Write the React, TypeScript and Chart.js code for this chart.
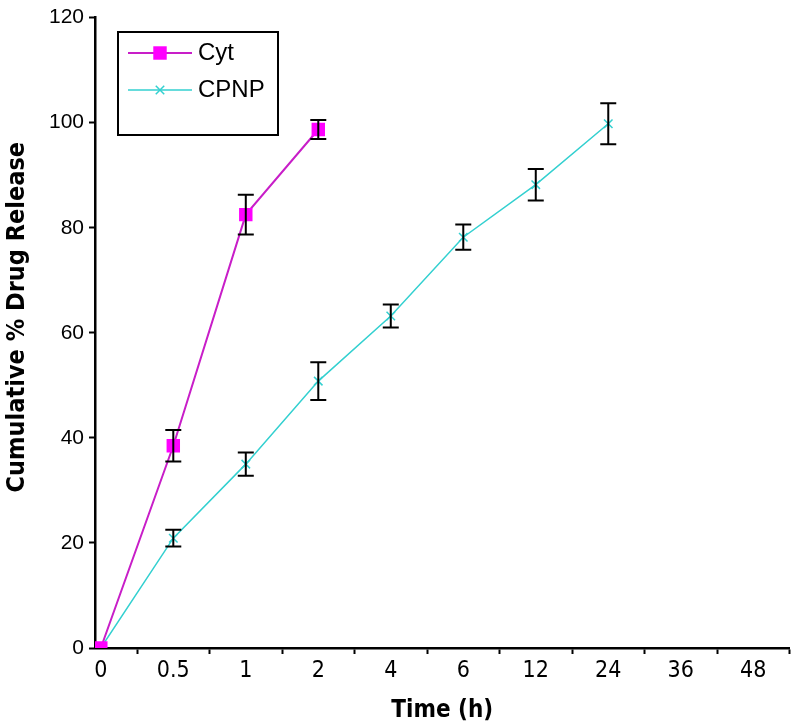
import React, { useEffect, useRef } from "react";
import { Chart, registerables } from "chart.js";

Chart.register(...registerables);

const categories = ["0", "0.5", "1", "2", "4", "6", "12", "24", "36", "48"];
const cytValues = [0, 38.5, 82.5, 98.7];
const cytErrors = [0, 3.0, 3.8, 1.8];
const cpnpValues = [0, 20.9, 35.0, 50.8, 63.2, 78.2, 88.2, 99.8];
const cpnpErrors = [0, 1.6, 2.2, 3.6, 2.2, 2.4, 3.0, 3.9];
const yTicks = [0, 20, 40, 60, 80, 100, 120];

const NARROW = "'Liberation Sans Narrow', 'DejaVu Sans Condensed', 'Liberation Sans', Arial, sans-serif";
const SANS = "'Liberation Sans', Arial, sans-serif";

const errorBarPlugin = {
  id: "errorBars",
  afterDatasetsDraw(chart: any) {
    const ctx = chart.ctx;
    const yScale = chart.scales.y;
    ctx.save();
    ctx.strokeStyle = "#000";
    ctx.lineWidth = 2;
    chart.data.datasets.forEach((ds: any, di: number) => {
      const meta = chart.getDatasetMeta(di);
      const errs: number[] = ds.errors || [];
      meta.data.forEach((pt: any, i: number) => {
        const e = errs[i];
        if (!e) return;
        const v = ds.data[i].y;
        const x = pt.x;
        const yt = yScale.getPixelForValue(v + e);
        const yb = yScale.getPixelForValue(v - e);
        ctx.beginPath();
        ctx.moveTo(x, yt);
        ctx.lineTo(x, yb);
        ctx.moveTo(x - 8, yt);
        ctx.lineTo(x + 8, yt);
        ctx.moveTo(x - 8, yb);
        ctx.lineTo(x + 8, yb);
        ctx.stroke();
      });
    });
    ctx.restore();
  },
};

function drawMarker(ctx: CanvasRenderingContext2D, ds: any, x: number, y: number) {
  const r = ds.pointRadius;
  if (ds.pointStyle === "rect") {
    const s = Math.SQRT1_2 * r;
    ctx.fillStyle = ds.pointBackgroundColor;
    ctx.fillRect(x - s, y - s, 2 * s, 2 * s);
  } else {
    const s = Math.SQRT1_2 * r;
    ctx.strokeStyle = ds.pointBorderColor;
    ctx.lineWidth = ds.pointBorderWidth;
    ctx.beginPath();
    ctx.moveTo(x - s, y - s);
    ctx.lineTo(x + s, y + s);
    ctx.moveTo(x - s, y + s);
    ctx.lineTo(x + s, y - s);
    ctx.stroke();
  }
}

const boxLegendPlugin = {
  id: "boxLegend",
  afterDraw(chart: any) {
    const ctx = chart.ctx;
    const x0 = 118, y0 = 32, w = 160, h = 103;
    ctx.save();
    ctx.fillStyle = "#fff";
    ctx.fillRect(x0, y0, w, h);
    ctx.strokeStyle = "#000";
    ctx.lineWidth = 2;
    ctx.strokeRect(x0, y0, w, h);
    const rows = [53, 90];
    chart.data.datasets.forEach((ds: any, i: number) => {
      const y = rows[i];
      ctx.strokeStyle = ds.borderColor;
      ctx.lineWidth = ds.borderWidth;
      ctx.beginPath();
      ctx.moveTo(128, y);
      ctx.lineTo(192, y);
      ctx.stroke();
      drawMarker(ctx, ds, 160, y);
      ctx.fillStyle = "#000";
      ctx.font = "24px " + SANS;
      ctx.textBaseline = "middle";
      ctx.textAlign = "left";
      ctx.fillText(ds.label, 198, y);
    });
    ctx.restore();
  },
};

export default function App() {
  const ref = useRef<HTMLCanvasElement | null>(null);
  useEffect(() => {
    document.body.style.margin = "0";
    const canvas = ref.current!;
    const chart = new Chart(canvas, {
      type: "line",
      data: {
        datasets: [
          {
            label: "Cyt",
            data: cytValues.map((v, i) => ({ x: i, y: v })),
            errors: cytErrors,
            borderColor: "#C81EC8",
            borderWidth: 2,
            pointStyle: "rect",
            pointRadius: 9.5,
            pointBackgroundColor: "#FF00FF",
            pointBorderColor: "#FF00FF",
            pointBorderWidth: 0,
          } as any,
          {
            label: "CPNP",
            data: cpnpValues.map((v, i) => ({ x: i, y: v })),
            errors: cpnpErrors,
            borderColor: "#33D0D0",
            borderWidth: 1.5,
            pointStyle: "crossRot",
            pointRadius: 6,
            pointBackgroundColor: "#33D0D0",
            pointBorderColor: "#33D0D0",
            pointBorderWidth: 1.5,
          } as any,
        ],
      },
      options: {
        animation: false,
        responsive: false,
        layout: { padding: { left: 0, right: 7, top: 10, bottom: 0 } },
        plugins: { legend: { display: false }, tooltip: { enabled: false } },
        scales: {
          x: {
            type: "linear",
            min: -0.08,
            max: 9.5,
            afterBuildTicks: (scale: any) => {
              const t: any[] = [];
              for (let i = 0; i < categories.length; i++) {
                t.push({ value: i });
                t.push({ value: i + 0.5 });
              }
              scale.ticks = t;
            },
            afterFit: (scale: any) => {
              scale.height = 77;
            },
            ticks: {
              autoSkip: false,
              maxRotation: 0,
              padding: 3,
              color: "#000",
              font: { family: NARROW, size: 23 },
              callback: (v: any) => {
                const n = Number(v);
                return Number.isInteger(n) ? categories[n] : "";
              },
            },
            grid: {
              drawOnChartArea: false,
              tickLength: 6,
              tickWidth: 2,
              tickColor: (c: any) => (c.tick && Number.isInteger(c.tick.value) ? "rgba(0,0,0,0)" : "#000"),
            },
            border: { color: "#000", width: 2.5 },
            title: {
              display: true,
              text: "Time (h)",
              color: "#000",
              font: { family: NARROW, size: 24, weight: "bold" },
              padding: { top: 0, bottom: 0 },
            },
          },
          y: {
            min: 0,
            max: 120,
            afterBuildTicks: (scale: any) => {
              scale.ticks = yTicks.map((v) => ({ value: v }));
            },
            afterFit: (scale: any) => {
              scale.width = 95;
            },
            ticks: {
              padding: 5,
              color: "#000",
              font: { family: SANS, size: 21 },
            },
            grid: { drawOnChartArea: false, tickLength: 6, tickWidth: 2, tickColor: "#000" },
            border: { color: "#000", width: 2.5 },
            title: {
              display: true,
              text: "    Cumulative % Drug Release",
              color: "#000",
              font: { family: NARROW, size: 25, weight: "bold" },
              padding: { top: 2, bottom: 0 },
            },
          },
        },
      },
      plugins: [errorBarPlugin, boxLegendPlugin],
    } as any);
    return () => chart.destroy();
  }, []);
  return (
    <div style={{ position: "absolute", left: 0, top: 0, width: 799, height: 725, background: "#fff" }}>
      <canvas ref={ref} width={799} height={725} style={{ display: "block" }} />
    </div>
  );
}
